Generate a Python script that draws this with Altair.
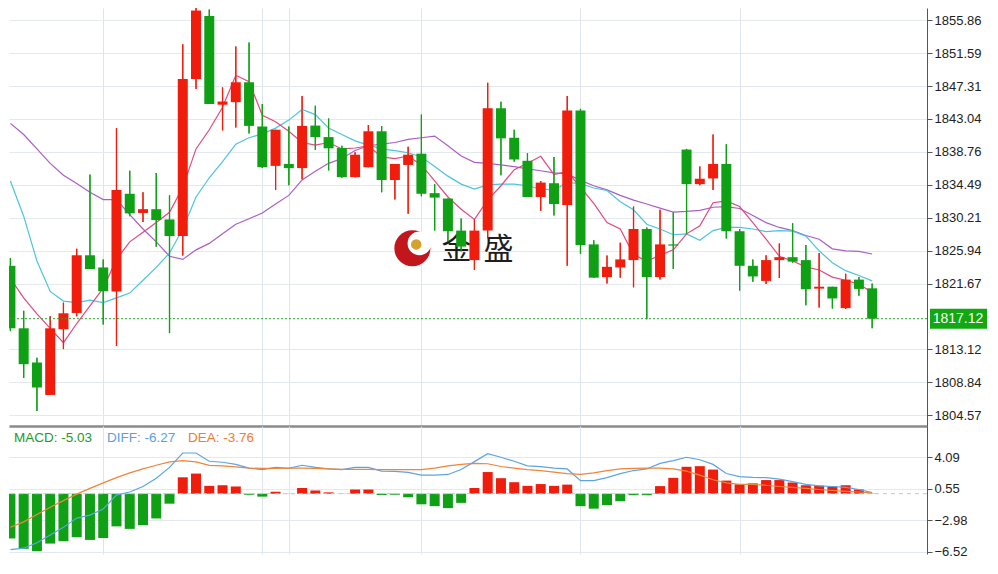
import altair as alt
import pandas as pd

# ---------------- data ----------------
open_ = [1823.98, 1815.87, 1811.42, 1807.22, 1815.75, 1817.86, 1825.35, 1823.77, 1820.65, 1833.33,
         1830.84, 1831.33, 1830.00, 1827.84, 1848.21, 1856.40, 1844.89, 1845.22, 1847.80, 1842.06,
         1836.95, 1837.20, 1836.66, 1842.18, 1840.69, 1839.27, 1835.49, 1836.78, 1841.44, 1835.12,
         1837.07, 1838.53, 1833.41, 1832.71, 1828.55, 1824.72, 1828.55, 1844.43, 1840.60, 1837.61,
         1832.91, 1834.70, 1831.87, 1844.14, 1826.76, 1822.52, 1823.77, 1824.72, 1828.76, 1822.52,
         1826.76, 1839.07, 1834.58, 1835.32, 1837.20, 1828.47, 1823.98, 1822.02, 1824.72, 1825.10,
         1824.72, 1821.02, 1821.27, 1818.49, 1822.19, 1821.06]
high_ = [1825.00, 1818.16, 1812.05, 1817.45, 1819.20, 1826.18, 1835.82, 1824.81, 1841.85, 1836.32,
         1833.54, 1836.03, 1833.12, 1852.74, 1857.60, 1857.23, 1847.13, 1852.45, 1852.95, 1844.97,
         1841.64, 1842.06, 1846.01, 1844.76, 1843.10, 1839.56, 1838.73, 1842.27, 1842.14, 1837.20,
         1839.44, 1843.60, 1834.58, 1832.71, 1830.13, 1830.00, 1847.75, 1845.26, 1841.64, 1838.61,
         1834.99, 1838.11, 1846.01, 1844.35, 1827.30, 1825.31, 1826.97, 1831.67, 1828.96, 1831.25,
         1830.92, 1839.15, 1836.86, 1841.02, 1839.77, 1828.76, 1824.81, 1825.35, 1826.89, 1829.50,
         1826.68, 1825.64, 1821.27, 1822.94, 1822.52, 1821.69]
low_ = [1815.50, 1809.43, 1805.14, 1807.22, 1813.17, 1817.45, 1823.56, 1816.37, 1813.58, 1830.42,
        1829.67, 1826.47, 1815.25, 1825.31, 1846.92, 1844.97, 1841.56, 1841.93, 1841.14, 1836.66,
        1833.83, 1834.45, 1835.20, 1839.02, 1836.36, 1835.41, 1835.49, 1836.78, 1833.54, 1832.58,
        1830.75, 1833.00, 1828.55, 1827.09, 1825.85, 1823.44, 1827.51, 1835.74, 1837.48, 1832.91,
        1831.13, 1830.50, 1823.98, 1825.51, 1822.44, 1821.69, 1822.44, 1821.19, 1817.03, 1822.19,
        1823.56, 1828.13, 1834.45, 1833.83, 1827.51, 1820.77, 1821.90, 1821.61, 1822.40, 1824.39,
        1818.86, 1818.57, 1818.45, 1818.36, 1820.11, 1815.87]
close_ = [1815.87, 1811.21, 1808.18, 1815.87, 1817.82, 1825.35, 1823.56, 1820.69, 1833.83, 1830.79,
          1831.33, 1829.92, 1827.84, 1848.21, 1857.11, 1844.97, 1845.30, 1847.80, 1842.14, 1836.78,
          1841.64, 1836.66, 1842.14, 1840.69, 1839.23, 1835.49, 1838.40, 1841.44, 1835.12, 1837.20,
          1838.40, 1833.33, 1832.83, 1828.47, 1826.47, 1828.55, 1844.43, 1840.52, 1837.78, 1832.91,
          1834.78, 1832.00, 1844.14, 1826.68, 1822.44, 1823.85, 1824.81, 1828.76, 1822.52, 1826.76,
          1826.60, 1834.58, 1835.28, 1837.20, 1828.47, 1823.98, 1822.60, 1824.72, 1825.10, 1824.52,
          1820.94, 1821.27, 1819.74, 1822.19, 1820.98, 1817.12]

ma5 = [1822.31, 1819.82, 1817.74, 1815.87, 1814.00, 1816.49, 1818.78, 1821.07, 1824.81, 1827.09,
       1828.34, 1829.59, 1830.92, 1834.16, 1839.15, 1841.64, 1844.55, 1848.71, 1847.88, 1843.51,
       1842.68, 1841.44, 1839.98, 1839.65, 1839.98, 1839.15, 1839.27, 1839.56, 1838.11, 1837.90,
       1838.23, 1837.07, 1834.99, 1832.91, 1831.33, 1830.00, 1832.50, 1834.37, 1836.45, 1837.28,
       1838.19, 1835.82, 1836.24, 1834.16, 1832.08, 1829.59, 1828.76, 1825.43, 1824.60, 1825.35,
       1826.05, 1828.13, 1829.17, 1832.17, 1832.41, 1831.67, 1829.59, 1827.43, 1825.22, 1824.60,
       1823.85, 1823.44, 1822.52, 1822.11, 1821.61, 1820.53]
ma10 = [1834.99, 1830.42, 1824.60, 1820.65, 1819.40, 1819.20, 1819.53, 1819.20, 1819.82, 1820.44,
        1822.11, 1823.77, 1825.64, 1828.76, 1832.91, 1835.41, 1837.49, 1839.77, 1840.60, 1841.10,
        1841.85, 1842.89, 1844.26, 1843.60, 1841.85, 1841.02, 1840.19, 1839.65, 1839.15, 1838.94,
        1838.65, 1838.11, 1836.86, 1835.62, 1834.58, 1833.95, 1834.49, 1834.58, 1834.58, 1834.37,
        1833.95, 1833.83, 1834.78, 1834.66, 1834.08, 1833.75, 1832.29, 1831.25, 1829.38, 1828.76,
        1828.01, 1828.13, 1827.30, 1828.55, 1828.96, 1828.96, 1828.76, 1828.42, 1828.55, 1828.47,
        1827.84, 1825.93, 1824.39, 1823.35, 1822.73, 1822.02]
ma20 = [1842.47, 1841.02, 1839.15, 1837.28, 1835.74, 1834.66, 1833.54, 1832.58, 1832.58, 1830.63,
        1828.76, 1827.09, 1825.22, 1824.81, 1826.05, 1826.89, 1828.13, 1829.38, 1830.09, 1830.84,
        1832.00, 1833.12, 1835.12, 1836.24, 1837.28, 1837.90, 1838.94, 1839.56, 1839.77, 1839.98,
        1840.40, 1840.60, 1840.81, 1839.56, 1838.23, 1837.40, 1837.28, 1837.07, 1836.86, 1836.57,
        1836.32, 1836.03, 1835.91, 1835.07, 1834.37, 1833.83, 1833.12, 1832.50, 1832.00, 1831.46,
        1830.96, 1831.04, 1831.17, 1831.58, 1831.67, 1831.42, 1830.50, 1829.59, 1828.96, 1828.55,
        1827.92, 1827.43, 1826.18, 1825.93, 1825.85, 1825.51]

macd_hist = [-5.03, -6.19, -6.43, -5.60, -5.33, -4.88, -5.19, -4.98, -3.67, -3.95,
             -3.53, -2.78, -1.12, 1.84, 2.26, 0.88, 0.95, 0.81, -0.12, -0.33,
             0.22, 0.02, 0.64, 0.36, 0.15, 0.02, 0.47, 0.47, -0.15, -0.12,
             -0.40, -1.19, -1.40, -1.62, -1.03, 0.64, 2.43, 1.74, 1.29, 0.88,
             1.08, 0.88, 1.02, -1.40, -1.68, -1.28, -0.84, -0.17, -0.17, 0.85,
             1.78, 3.02, 3.09, 2.71, 1.47, 1.05, 1.16, 1.53, 1.53, 1.26,
             0.95, 0.91, 0.81, 0.95, 0.47, 0.03]
diff_line = [-6.27, -6.12, -5.50, -4.64, -3.78, -2.74, -2.40, -1.71, -0.16, 0.19,
             0.81, 1.74, 2.95, 4.57, 4.57, 3.64, 3.53, 3.29, 2.88, 2.71,
             2.95, 2.84, 3.19, 2.95, 2.78, 2.71, 2.95, 2.95, 2.53, 2.50,
             2.40, 2.09, 2.09, 2.16, 2.71, 3.60, 4.50, 4.09, 3.64, 3.12,
             3.05, 2.88, 2.78, 1.47, 1.47, 1.81, 2.26, 2.60, 2.78, 3.40,
             3.71, 4.09, 3.81, 3.29, 2.26, 1.91, 1.84, 1.81, 1.64, 1.36,
             1.05, 0.88, 0.81, 0.71, 0.47, 0.12]
dea_line = [-3.76, -3.16, -2.33, -1.53, -0.78, -0.05, 0.60, 1.22, 1.81, 2.33,
            2.78, 3.19, 3.57, 3.71, 3.57, 3.19, 3.12, 3.02, 2.88, 2.84,
            2.84, 2.88, 2.88, 2.84, 2.78, 2.74, 2.74, 2.74, 2.71, 2.71,
            2.71, 2.71, 2.88, 3.12, 3.29, 3.40, 3.36, 3.05, 2.88, 2.71,
            2.60, 2.43, 2.26, 2.16, 2.33, 2.60, 2.78, 2.84, 2.88, 2.88,
            2.78, 2.53, 2.09, 1.57, 1.22, 1.05, 1.05, 0.95, 0.81, 0.71,
            0.60, 0.47, 0.36, 0.26, 0.19, 0.09]

price_ticks = [1855.86, 1851.59, 1847.31, 1843.04, 1838.76, 1834.49, 1830.21,
               1825.94, 1821.67, 1813.12, 1808.84, 1804.57]
macd_ticks = [4.09, 0.55, -2.98, -6.52]
session_breaks = [7, 19, 21, 31, 43, 55]
legend_labels = ["MACD: -5.03", "DIFF: -6.27", "DEA: -3.76"]
last_price = 1817.12
logo_chars = ["金", "盛"]

# ---------------- layout / style ----------------
W, H1, H2 = 918, 418, 128
RED, GREEN = "#f01d0d", "#10a016"
TAG_GREEN = "#11a811"
FONT = "Liberation Sans"
GRID = "#e4e9f0"
VGRID = "#dce4ee"
AXIS = "#555555"

X_DOM = [0.27, 68.76]
Y_DOM = [1803.19, 1857.44]
M_DOM = [-6.77, 7.60]

n = len(close_)
df = pd.DataFrame({
    "i": list(range(n)), "open": open_, "high": high_, "low": low_, "close": close_,
    "ma5": ma5, "ma10": ma10, "ma20": ma20,
    "hist": macd_hist, "diff": diff_line, "dea": dea_line,
})
df["dir"] = ["up" if c >= o else "down" for o, c in zip(open_, close_)]
df["hdir"] = ["up" if h >= 0 else "down" for h in macd_hist]
df["zero"] = 0.0

xs = alt.Scale(domain=X_DOM, nice=False, zero=False)
ys = alt.Scale(domain=Y_DOM, nice=False, zero=False)
ms = alt.Scale(domain=M_DOM, nice=False, zero=False)
cscale = alt.Scale(domain=["up", "down"], range=[RED, GREEN])

x_axis_main = alt.Axis(values=session_breaks, labels=False, ticks=False, title=None,
                       grid=True, gridColor=VGRID, domain=True, domainColor="#8a8a8a",
                       domainWidth=2.5, orient="bottom")
y_axis_main = alt.Axis(orient="right", values=price_ticks, format=".2f", title=None,
                       grid=True, gridColor=GRID, domain=True, domainColor=AXIS,
                       ticks=True, tickColor=AXIS, tickSize=5, labelColor="#222222",
                       labelFontSize=13, labelFont=FONT, labelPadding=2)
x_axis_macd = alt.Axis(values=session_breaks, labels=False, ticks=False, title=None,
                       grid=True, gridColor=VGRID, domain=False, orient="bottom")
y_axis_macd = alt.Axis(orient="right", values=macd_ticks, format=".2f", title=None,
                       grid=True, gridColor=GRID, domain=True, domainColor=AXIS,
                       ticks=True, tickColor=AXIS, tickSize=5, labelColor="#222222",
                       labelFontSize=13, labelFont=FONT, labelPadding=2)


def MX(field):
    return alt.X(f"{field}:Q", scale=xs, axis=x_axis_main)


def MY(field):
    return alt.Y(f"{field}:Q", scale=ys, axis=y_axis_main)


def CX(field):
    return alt.X(f"{field}:Q", scale=xs, axis=x_axis_macd)


def CY(field):
    return alt.Y(f"{field}:Q", scale=ms, axis=y_axis_macd)


base = alt.Chart(df)

# ---------------- watermark logo ----------------
def pt(xv, yv):
    return pd.DataFrame({"lx": [xv], "ly": [yv]})


logo_red = alt.Chart(pt(30.32, 1826.26)).mark_circle(size=1300, color="#c3161c", opacity=1).encode(
    x=MX("lx"), y=MY("ly"))
logo_white = alt.Chart(pt(30.85, 1826.89)).mark_circle(size=560, color="#ffffff", opacity=1).encode(
    x=MX("lx"), y=MY("ly"))
logo_ball = alt.Chart(pt(30.61, 1826.76)).mark_circle(size=110, color="#d4a22e", opacity=1).encode(
    x=MX("lx"), y=MY("ly"))
logo_text = alt.Chart(pd.DataFrame({"lx": [33.64, 36.81], "ly": [1826.0, 1826.0], "ch": logo_chars})).mark_text(
    font="Noto Sans CJK SC", fontSize=30, color="#1e1e1e", align="center", baseline="middle"
).encode(x=MX("lx"), y=MY("ly"), text="ch:N")

# ---------------- candles ----------------
wicks = base.mark_rule(strokeWidth=1.2, clip=True).encode(
    x=MX("i"), y=MY("low"), y2="high:Q",
    color=alt.Color("dir:N", scale=cscale, legend=None),
)
bodies = base.mark_bar(size=10, clip=True).encode(
    x=MX("i"), y=MY("open"), y2="close:Q",
    color=alt.Color("dir:N", scale=cscale, legend=None),
)


def ma_line(field, color):
    return base.mark_line(strokeWidth=1.2, color=color, clip=True).encode(x=MX("i"), y=MY(field))


last_df = pd.DataFrame({"p": [last_price], "top": [last_price + 1.3], "bot": [last_price - 1.3],
                        "label": [f"{last_price:.2f}"]})
price_line = alt.Chart(last_df).mark_rule(color="#2fa32f", strokeDash=[2, 2], strokeWidth=1).encode(
    y=MY("p"))
price_tag = alt.Chart(last_df).mark_rect(color=TAG_GREEN).encode(
    x=alt.value(W + 3), x2=alt.value(W + 60), y=MY("top"), y2="bot:Q")
price_text = alt.Chart(last_df).mark_text(color="white", fontSize=14, font=FONT, align="center",
                                          baseline="middle").encode(
    x=alt.value(W + 31), y=MY("p"), text="label:N")

main = alt.layer(
    wicks, logo_red, logo_white, logo_ball, logo_text,
    ma_line("ma20", "#a95fc6"), ma_line("ma10", "#4cc4dc"), ma_line("ma5", "#e2497f"),
    bodies, wicks,
    price_line, price_tag, price_text,
).properties(width=W, height=H1)

# ---------------- MACD panel ----------------
zero_df = pd.DataFrame({"z": [0.0]})
zero_line = alt.Chart(zero_df).mark_rule(color="#b5cbe0", strokeDash=[4, 4]).encode(y=CY("z"))
hist_bars = base.mark_bar(size=10, clip=True).encode(
    x=CX("i"), y=CY("hist"), y2="zero:Q",
    color=alt.Color("hdir:N", scale=cscale, legend=None),
)
diff_l = base.mark_line(strokeWidth=1.2, color="#5ba4e8", clip=True).encode(x=CX("i"), y=CY("diff"))
dea_l = base.mark_line(strokeWidth=1.2, color="#f0843a", clip=True).encode(x=CX("i"), y=CY("dea"))

leg_colors = ["#1e9a28", "#5aa0e0", "#f07d2c"]
leg_x = [5, 98, 179]
legend_layers = [
    alt.Chart(pd.DataFrame({"t": [t]})).mark_text(font=FONT, fontSize=13.5, color=c, align="left",
                                                   baseline="middle").encode(
        x=alt.value(xv), y=alt.value(12), text="t:N")
    for t, c, xv in zip(legend_labels, leg_colors, leg_x)
]

macd = alt.layer(hist_bars, zero_line, diff_l, dea_l, *legend_layers).properties(width=W, height=H2)

chart = alt.vconcat(main, macd, spacing=0).properties(padding=0).configure_view(strokeWidth=0)

chart.save("out.html", embed_options={"renderer": "svg", "actions": False})
